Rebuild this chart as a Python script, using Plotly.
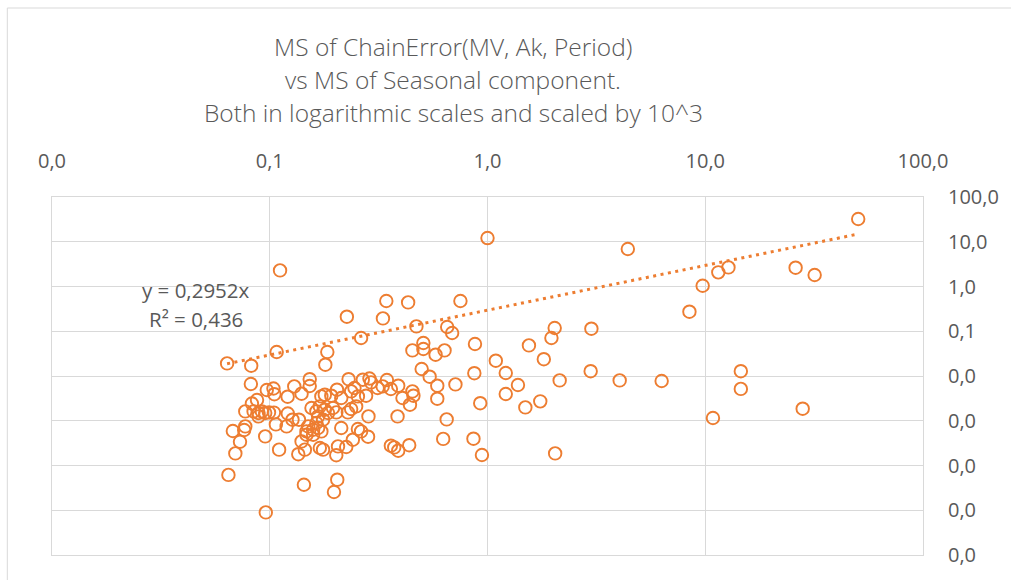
import plotly.graph_objects as go

# Data (MS seasonal component vs MS chain error, scaled by 10^3)
x_vals = [50.4, 1.00, 4.41, 0.1115, 12.78, 11.48, 26.0, 31.8, 9.73, 8.46,
          0.343, 0.432, 0.751, 0.226, 0.331, 0.4716, 0.653, 0.688, 2.035, 3.00,
          1.966, 0.2627, 0.876, 1.55, 0.5075, 0.5075, 0.452, 0.635, 0.5775, 0.1076,
          0.1838, 0.18, 0.0637, 0.0822, 0.4985, 0.5424, 0.870, 1.092, 1.814, 1.213,
          2.977, 2.145, 4.046, 6.306, 14.57, 14.57, 1.38, 1.213, 0.926, 1.747,
          1.492, 10.85, 28.02, 0.862, 0.943, 2.045, 0.626, 0.6494, 0.7124, 0.588,
          0.588, 0.3863, 0.4405, 0.452, 0.4568, 0.407, 0.389, 0.3452, 0.330, 0.36,
          0.36, 0.373, 0.389, 0.437, 0.1526, 0.1526, 0.14, 0.1726, 0.179, 0.1917,
          0.2302, 0.2675, 0.287, 0.2918, 0.313, 0.2365, 0.254, 0.277, 0.213, 0.2036,
          0.245, 0.1555, 0.1638, 0.1698, 0.179, 0.1852, 0.1952, 0.2021, 0.1668, 0.1757,
          0.2365, 0.2493, 0.2285, 0.284, 0.213, 0.254, 0.2627, 0.1502, 0.1582, 0.1668,
          0.1638, 0.1475, 0.1582, 0.1726, 0.14, 0.1698, 0.1757, 0.2058, 0.2021, 0.2408,
          0.2828, 0.2245, 0.145, 0.1352, 0.0819, 0.0969, 0.104, 0.105, 0.1208, 0.1296,
          0.0772, 0.0828, 0.0874, 0.0843, 0.0888, 0.092, 0.0953, 0.0992, 0.0888, 0.1045,
          0.121, 0.1272, 0.1362, 0.1195, 0.1067, 0.0772, 0.0763, 0.0677, 0.073, 0.0695,
          0.0953, 0.1104, 0.1475, 0.0646, 0.1435, 0.2042, 0.1972, 0.0959]

y_vals = [32.2, 12.1, 6.89, 2.29, 2.67, 2.07, 2.63, 1.81, 1.04, 0.2735,
          0.474, 0.441, 0.474, 0.2115, 0.1937, 0.1283, 0.1245, 0.0914, 0.1182, 0.114,
          0.0707, 0.0707, 0.0519, 0.0483, 0.0546, 0.0401, 0.0373, 0.0373, 0.0299, 0.0344,
          0.0344, 0.0179, 0.0191, 0.017, 0.01434, 0.00965, 0.01155, 0.022, 0.02375, 0.01167,
          0.0128, 0.00798, 0.00798, 0.00773, 0.0128, 0.00515, 0.0063, 0.00396, 0.00247, 0.00271,
          0.00199, 0.001152, 0.00186, 0.000397, 0.0001717, 0.0001865, 0.000393, 0.001072, 0.00649, 0.00607,
          0.00311, 0.00125, 0.002285, 0.00453, 0.00363, 0.003225, 0.00607, 0.00814, 0.00586, 0.00513,
          0.000277, 0.000254, 0.000214, 0.000284, 0.00849, 0.00598, 0.00402, 0.0035, 0.00382, 0.00363,
          0.00849, 0.00827, 0.0088, 0.0072, 0.0054, 0.00453, 0.0035, 0.00363, 0.003225, 0.00494,
          0.0054, 0.001928, 0.001618, 0.002093, 0.001766, 0.00149, 0.001928, 0.001538, 0.00125, 0.001056,
          0.00183, 0.002093, 0.001538, 0.00125, 0.000689, 0.000654, 0.000578, 0.000748, 0.000631, 0.000689,
          0.000891, 0.000488, 0.000488, 0.000578, 0.000346, 0.000246, 0.000226, 0.000267, 0.00017, 0.000377,
          0.00044, 0.000259, 0.000226, 0.000179, 0.00663, 0.00487, 0.00526, 0.00392, 0.00345, 0.00586,
          0.001618, 0.00243, 0.00291, 0.001618, 0.00149, 0.001618, 0.00149, 0.001538, 0.00125, 0.00152,
          0.001452, 0.001056, 0.001056, 0.000748, 0.000829, 0.000748, 0.000621, 0.00059, 0.00034, 0.0001865,
          0.000447, 0.000226, 0.000578, 0.0000617, 0.0000372, 0.0000482, 0.0000256, 0.00000896]

trend_slope = 0.2952
trend_label = ["y = 0,2952x", "R² = 0,436"]

x_tickvals = [0.01, 0.1, 1, 10, 100]
x_ticktext = ["0,0", "0,1", "1,0", "10,0", "100,0"]
y_tickvals = [1e-6, 1e-5, 1e-4, 1e-3, 1e-2, 0.1, 1, 10, 100]
y_ticktext = ["0,0", "0,0", "0,0", "0,0", "0,0", "0,1", "1,0", "10,0", "100,0"]

title_lines = ["MS of ChainError(MV, Ak, Period)",
               "vs MS of Seasonal component.",
               "Both in logarithmic scales and scaled by 10^3"]

ORANGE = "#ED7D31"
GRID = "#D9D9D9"
TEXT = "#595959"
FONT = "Open Sans"

W, H = 1011, 580
L, R, T, B = 52, 82, 197, 25

fig = go.Figure()

fig.add_trace(go.Scatter(
    x=x_vals, y=y_vals, mode="markers",
    marker=dict(symbol="circle-open", size=12.5, color=ORANGE,
                line=dict(color=ORANGE, width=1.9)),
    showlegend=False, hoverinfo="x+y"))

tx = [min(x_vals), max(x_vals)]
ty = [trend_slope * v for v in tx]
fig.add_trace(go.Scatter(
    x=tx, y=ty, mode="lines",
    line=dict(color=ORANGE, width=3, dash="3px,4.5px"),
    showlegend=False, hoverinfo="skip"))

pw = W - L - R
ph = H - T - B

def px_x(p):
    return (p - L) / pw

def px_y(p):
    return (H - B - p) / ph

annotations = []
for i, line in enumerate(title_lines):
    annotations.append(dict(
        text=line, xref="paper", yref="paper",
        x=px_x(456), y=px_y(46 + i * 33.5),
        xanchor="center", yanchor="middle", showarrow=False,
        font=dict(family=FONT, size=24.5, color=TEXT, weight=300)))

for i, line in enumerate(trend_label):
    annotations.append(dict(
        text=line, xref="paper", yref="paper",
        x=px_x(197), y=px_y(290 + i * 28.5),
        xanchor="center", yanchor="middle", showarrow=False,
        font=dict(family=FONT, size=20.5, color=TEXT)))

fig.update_layout(
    width=W, height=H,
    margin=dict(l=L, r=R, t=T, b=B, pad=0),
    paper_bgcolor="white", plot_bgcolor="white",
    annotations=annotations,
    shapes=[dict(type="rect", xref="paper", yref="paper",
                 x0=px_x(7), x1=px_x(1020), y0=px_y(590), y1=px_y(8),
                 line=dict(color=GRID, width=1), fillcolor="rgba(0,0,0,0)",
                 layer="below")],
    xaxis=dict(type="log", range=[-2, 2], side="top",
               tickvals=x_tickvals, ticktext=x_ticktext,
               showgrid=True, gridcolor=GRID, gridwidth=1,
               showline=True, linecolor=GRID, linewidth=1, mirror=True,
               zeroline=False, ticks="", ticklabelstandoff=20,
               tickfont=dict(family=FONT, size=20, color=TEXT)),
    yaxis=dict(type="log", range=[-6, 2], side="right",
               tickvals=y_tickvals, ticktext=y_ticktext,
               showgrid=True, gridcolor=GRID, gridwidth=1,
               showline=True, linecolor=GRID, linewidth=1, mirror=True,
               zeroline=False, ticks="", ticklabelstandoff=20,
               tickfont=dict(family=FONT, size=20, color=TEXT)),
)

fig.write_html("out.html")
